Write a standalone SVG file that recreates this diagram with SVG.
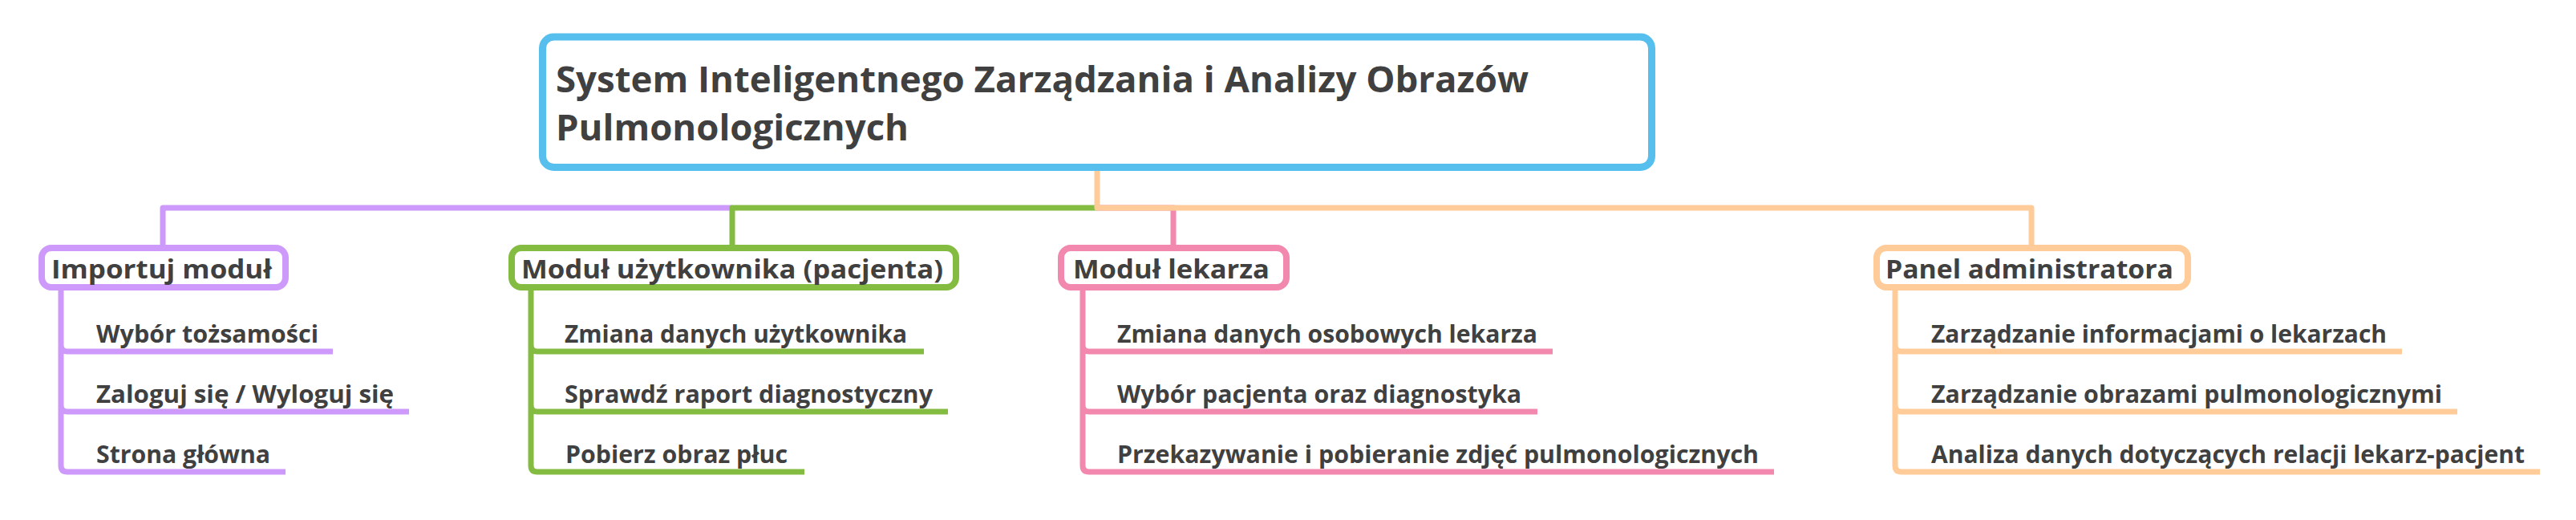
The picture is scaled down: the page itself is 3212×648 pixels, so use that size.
<svg xmlns="http://www.w3.org/2000/svg" width="3212" height="648" viewBox="0 0 3212 648">
<style>
.t{font-family:"Open Sans","Noto Sans","DejaVu Sans",sans-serif;font-weight:bold;fill:#404040}
.main{font-size:45px}
.node{font-size:33px}
.leaf{font-size:30px}
.ln{fill:none;stroke-width:7;stroke-linejoin:round}
.box{fill:#fff;stroke-width:8}
.pu{stroke:#CD9AFB}
.gr{stroke:#84BC42}
.pk{stroke:#F388AE}
.or{stroke:#FFCB98}
</style>
<rect width="3212" height="648" fill="#fff"/>
<g id="connectors">
<path class="ln pu" d="M913 259 H203 V305"/>
<path class="ln gr" d="M1368 259 H913 V305"/>
<path class="ln pk" d="M1368 259 H1463 V305"/>
<path class="ln or" d="M1368 213 V259 H2533 V305"/>
<path class="ln pu" d="M76 362 V430 Q76 438 84 438 H415 M76 430 V505 Q76 513 84 513 H510 M76 505 V580 Q76 588 84 588 H356"/>
<path class="ln gr" d="M662 362 V430 Q662 438 670 438 H1152 M662 430 V505 Q662 513 670 513 H1182 M662 505 V580 Q662 588 670 588 H1003"/>
<path class="ln pk" d="M1350 362 V430 Q1350 438 1358 438 H1936 M1350 430 V505 Q1350 513 1358 513 H1917 M1350 505 V580 Q1350 588 1358 588 H2212"/>
<path class="ln or" d="M2363 362 V430 Q2363 438 2371 438 H2995 M2363 430 V505 Q2363 513 2371 513 H3064 M2363 505 V580 Q2363 588 2371 588 H3167"/>
</g>
<g id="root">
<rect x="676.5" y="46" width="1383" height="162.5" rx="14" fill="#fff" stroke="#56BFEE" stroke-width="9"/>
<text class="t main" x="693" y="115" textLength="1213" lengthAdjust="spacingAndGlyphs">System Inteligentnego Zarządzania i Analizy Obrazów</text>
<text class="t main" x="693" y="175" textLength="440" lengthAdjust="spacingAndGlyphs">Pulmonologicznych</text>
</g>
<g id="importuj">
<rect class="box pu" x="52" y="309" width="304" height="49" rx="12"/>
<text class="t node" x="64" y="347" textLength="275" lengthAdjust="spacingAndGlyphs">Importuj moduł</text>
</g>
<g id="importuj-1"><text class="t leaf" x="120" y="427" textLength="277" lengthAdjust="spacingAndGlyphs">Wybór tożsamości</text></g>
<g id="importuj-2"><text class="t leaf" x="120" y="502" textLength="371" lengthAdjust="spacingAndGlyphs">Zaloguj się / Wyloguj się</text></g>
<g id="importuj-3"><text class="t leaf" x="120" y="577" textLength="217" lengthAdjust="spacingAndGlyphs">Strona główna</text></g>
<g id="uzytkownik">
<rect class="box gr" x="638" y="309" width="554" height="49" rx="12"/>
<text class="t node" x="650" y="347" textLength="526" lengthAdjust="spacingAndGlyphs">Moduł użytkownika (pacjenta)</text>
</g>
<g id="uzytkownik-1"><text class="t leaf" x="704" y="427" textLength="427" lengthAdjust="spacingAndGlyphs">Zmiana danych użytkownika</text></g>
<g id="uzytkownik-2"><text class="t leaf" x="704" y="502" textLength="459" lengthAdjust="spacingAndGlyphs">Sprawdź raport diagnostyczny</text></g>
<g id="uzytkownik-3"><text class="t leaf" x="705" y="577" textLength="277" lengthAdjust="spacingAndGlyphs">Pobierz obraz płuc</text></g>
<g id="lekarz">
<rect class="box pk" x="1323" y="309" width="281" height="49" rx="12"/>
<text class="t node" x="1338" y="347" textLength="245" lengthAdjust="spacingAndGlyphs">Moduł lekarza</text>
</g>
<g id="lekarz-1"><text class="t leaf" x="1393" y="427" textLength="524" lengthAdjust="spacingAndGlyphs">Zmiana danych osobowych lekarza</text></g>
<g id="lekarz-2"><text class="t leaf" x="1393" y="502" textLength="504" lengthAdjust="spacingAndGlyphs">Wybór pacjenta oraz diagnostyka</text></g>
<g id="lekarz-3"><text class="t leaf" x="1393" y="577" textLength="800" lengthAdjust="spacingAndGlyphs">Przekazywanie i pobieranie zdjęć pulmonologicznych</text></g>
<g id="admin">
<rect class="box or" x="2340" y="309" width="388" height="49" rx="12"/>
<text class="t node" x="2351" y="347" textLength="359" lengthAdjust="spacingAndGlyphs">Panel administratora</text>
</g>
<g id="admin-1"><text class="t leaf" x="2408" y="427" textLength="568" lengthAdjust="spacingAndGlyphs">Zarządzanie informacjami o lekarzach</text></g>
<g id="admin-2"><text class="t leaf" x="2408" y="502" textLength="637" lengthAdjust="spacingAndGlyphs">Zarządzanie obrazami pulmonologicznymi</text></g>
<g id="admin-3"><text class="t leaf" x="2408" y="577" textLength="740" lengthAdjust="spacingAndGlyphs">Analiza danych dotyczących relacji lekarz-pacjent</text></g>
</svg>
